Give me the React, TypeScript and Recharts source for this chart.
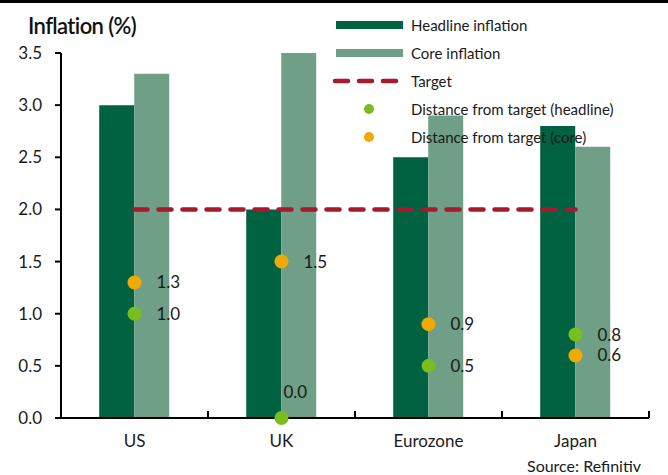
import React from 'react';
import { ComposedChart, Bar, Line, XAxis, YAxis, LabelList } from 'recharts';

const regions = ['US', 'UK', 'Eurozone', 'Japan'];
const headline = [3.0, 2.0, 2.5, 2.8];
const core = [3.3, 3.5, 2.9, 2.6];
const target = [2, 2, 2, 2];
const distHeadline = [1.0, 0.0, 0.5, 0.8];
const distCore = [1.3, 1.5, 0.9, 0.6];
const yTicks = [0, 0.5, 1, 1.5, 2, 2.5, 3, 3.5];

const data = regions.map((region, i) => ({
  region,
  headline: headline[i],
  core: core[i],
  target: target[i],
  distHeadline: distHeadline[i],
  distCore: distCore[i],
}));

const FONT = 'Lato, "Liberation Sans", sans-serif';
const DARK = '#006241';
const LIGHT = '#6f9f86';
const RED = '#a6192e';
const LIME = '#78be20';
const ORANGE = '#f2a900';
const TEXT = '#1a1a1a';

const CHART_W = 668;
const MARGIN = { top: 53, right: 19, left: 0, bottom: 27 };
const Y_AXIS_W = 61;
const BAND = (CHART_W - MARGIN.right - MARGIN.left - Y_AXIS_W) / regions.length;
const X_TICK_MARGIN = 17;

// category label plus a small upward tick at the right edge of each band
const CategoryTick = (props: any) => {
  const { x, y, payload } = props;
  const axisY = y - X_TICK_MARGIN;
  const edge = x + BAND / 2;
  return (
    <g>
      <line x1={edge} y1={axisY} x2={edge} y2={axisY - 7} stroke="#000" strokeWidth={2} />
      <text x={x} y={y} dy="0.71em" textAnchor="middle" fill={TEXT} fontSize={17} fontFamily={FONT}>
        {payload.value}
      </text>
    </g>
  );
};

// value labels next to the dots; zero sits above its dot
const DotLabel = (props: any) => {
  const { x, y, value } = props;
  if (value === 0) {
    return (
      <text x={x + 2} y={y - 20} fill={TEXT} fontSize={17} fontFamily={FONT}>
        {value.toFixed(1)}
      </text>
    );
  }
  return (
    <text x={x + 22} y={y + 6} fill={TEXT} fontSize={17} fontFamily={FONT}>
      {value.toFixed(1)}
    </text>
  );
};

const legendRows = [
  { label: 'Headline inflation', kind: 'bar', color: DARK },
  { label: 'Core inflation', kind: 'bar', color: LIGHT },
  { label: 'Target', kind: 'dash', color: RED },
  { label: 'Distance from target (headline)', kind: 'dot', color: LIME },
  { label: 'Distance from target (core)', kind: 'dot', color: ORANGE },
];

const ChartLegend = () => (
  <div style={{ position: 'absolute', left: 332, top: 11, fontFamily: FONT, fontSize: 15, color: TEXT }}>
    {legendRows.map((row) => (
      <div key={row.label} style={{ display: 'flex', alignItems: 'center', height: 28 }}>
        <svg width={79} height={12} style={{ flex: 'none' }}>
          {row.kind === 'bar' && <rect x={4} y={2} width={67} height={8} fill={row.color} />}
          {row.kind === 'dash' && (
            <line x1={3} y1={6} x2={73} y2={6} stroke={row.color} strokeWidth={4.5}
              strokeDasharray="13 11" strokeLinecap="round" />
          )}
          {row.kind === 'dot' && <circle cx={37} cy={6} r={5} fill={row.color} />}
        </svg>
        <span>{row.label}</span>
      </div>
    ))}
  </div>
);

export default function App() {
  return (
    <div style={{ position: 'absolute', left: 0, top: 0, width: 668, height: 475, background: '#fff', overflow: 'hidden' }}>
      <div style={{ position: 'absolute', left: 0, top: 0, width: 668, height: 3, background: '#000' }} />
      <div style={{ position: 'absolute', left: 28, top: 12, fontFamily: FONT, fontSize: 22, fontWeight: 600, color: '#111', letterSpacing: -0.6 }}>
        Inflation (%)
      </div>
      <ComposedChart
        width={CHART_W}
        height={475}
        data={data}
        margin={MARGIN}
        barGap={0}
        barCategoryGap="26%"
      >
        <XAxis
          dataKey="region"
          height={30}
          tickSize={0}
          tickMargin={X_TICK_MARGIN}
          axisLine={{ stroke: '#000', strokeWidth: 2 }}
          tick={CategoryTick}
        />
        <YAxis
          width={Y_AXIS_W}
          domain={[0, 3.5]}
          ticks={yTicks}
          tickFormatter={(v: number) => v.toFixed(1)}
          tickSize={6}
          tickMargin={13}
          axisLine={{ stroke: '#000', strokeWidth: 2 }}
          tickLine={{ stroke: '#000', strokeWidth: 2 }}
          tick={{ fill: TEXT, fontSize: 17, fontFamily: FONT }}
        />
        <Bar dataKey="headline" fill={DARK} isAnimationActive={false} />
        <Bar dataKey="core" fill={LIGHT} isAnimationActive={false} />
        <Line
          dataKey="target"
          stroke={RED}
          strokeWidth={4.5}
          strokeDasharray="13 11"
          strokeLinecap="round"
          dot={false}
          activeDot={false}
          isAnimationActive={false}
        />
        <Line
          dataKey="distCore"
          stroke="none"
          dot={{ r: 7, fill: ORANGE, stroke: 'none' }}
          activeDot={false}
          isAnimationActive={false}
        >
          <LabelList dataKey="distCore" content={DotLabel} />
        </Line>
        <Line
          dataKey="distHeadline"
          stroke="none"
          dot={{ r: 7, fill: LIME, stroke: 'none' }}
          activeDot={false}
          isAnimationActive={false}
        >
          <LabelList dataKey="distHeadline" content={DotLabel} />
        </Line>
      </ComposedChart>
      <ChartLegend />
      <div style={{ position: 'absolute', left: 527, top: 456, fontFamily: FONT, fontSize: 16, color: TEXT, whiteSpace: 'nowrap' }}>
        Source: Refinitiv
      </div>
    </div>
  );
}
